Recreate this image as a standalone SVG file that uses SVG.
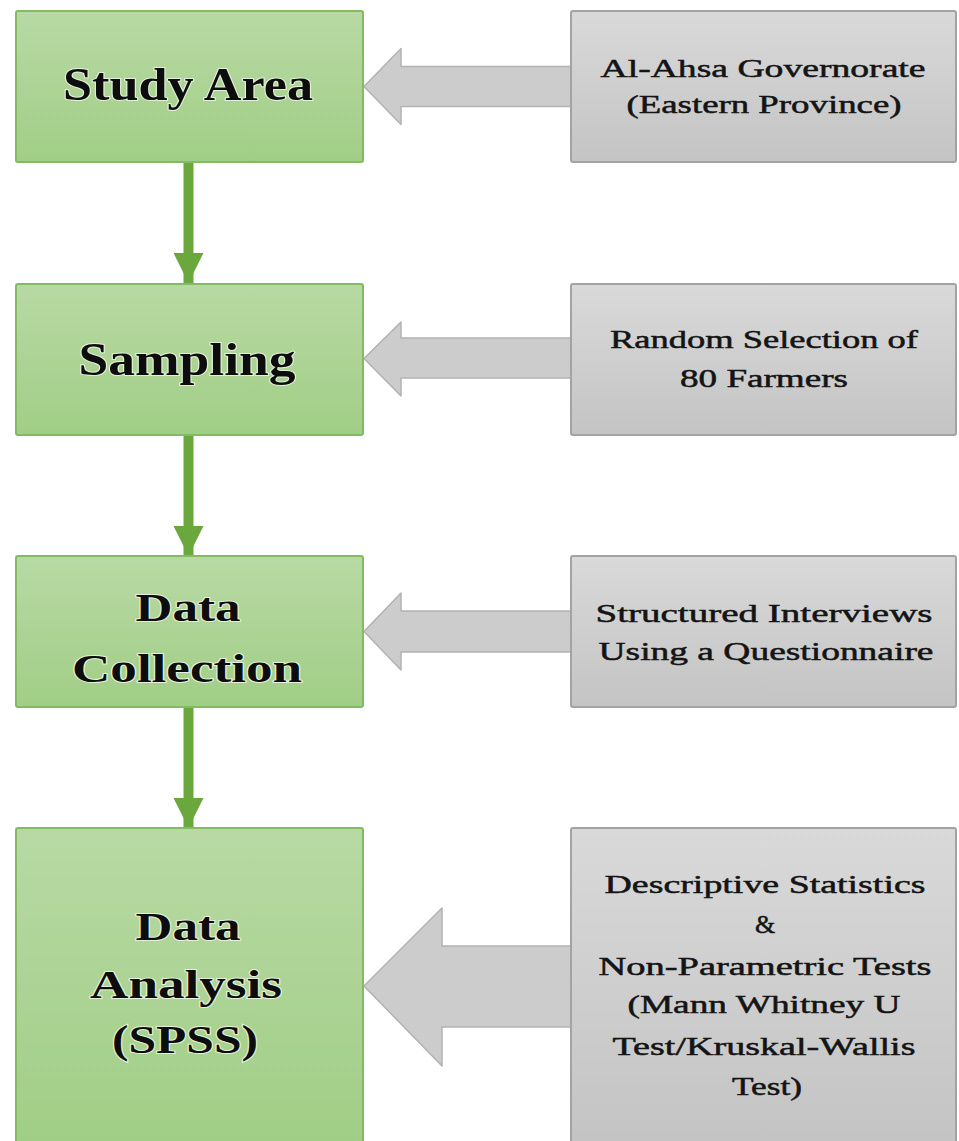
<svg xmlns="http://www.w3.org/2000/svg" width="959" height="1141" viewBox="0 0 959 1141">
<defs>
<linearGradient id="gGreen" x1="0" y1="0" x2="0" y2="1">
<stop offset="0" stop-color="#b8d9a4"/>
<stop offset="1" stop-color="#a1ce86"/>
</linearGradient>
<linearGradient id="gGreenTall" x1="0" y1="828" x2="0" y2="1141" gradientUnits="userSpaceOnUse">
<stop offset="0" stop-color="#b8d9a4"/>
<stop offset="1" stop-color="#a1ce86"/>
</linearGradient>
<linearGradient id="gGray" x1="0" y1="0" x2="0" y2="1">
<stop offset="0" stop-color="#d9d9d9"/>
<stop offset="1" stop-color="#c4c4c4"/>
</linearGradient>
<linearGradient id="gGrayTall" x1="0" y1="828" x2="0" y2="1141" gradientUnits="userSpaceOnUse">
<stop offset="0" stop-color="#d9d9d9"/>
<stop offset="1" stop-color="#c4c4c4"/>
</linearGradient>
<marker id="gHead" markerWidth="30" markerHeight="30" refX="30" refY="15" orient="auto" markerUnits="userSpaceOnUse" viewBox="0 0 30 30">
<path d="M0,0 L30,15 L0,30 Z" fill="#6aa83e"/>
</marker>
</defs>
<style>
.green{stroke:#82bb62;stroke-width:2}
.gray{stroke:#a3a3a3;stroke-width:2}
.blk{fill:#cccccc;stroke:#b2b2b2;stroke-width:1.5;stroke-linejoin:round}
.flow{stroke:#6aa83e;stroke-width:10;fill:none}
.t1{font-family:"Liberation Serif","Times New Roman",serif;font-weight:bold;font-size:46px;fill:#0d0d0d;text-anchor:middle;paint-order:stroke;stroke:#e4f1da;stroke-width:2}
.t2{font-family:"Liberation Serif","Times New Roman",serif;font-weight:bold;font-size:40px;fill:#0d0d0d;text-anchor:middle;paint-order:stroke;stroke:#e4f1da;stroke-width:2}
.tg{font-family:"Liberation Serif","Times New Roman",serif;font-size:26px;fill:#141414;text-anchor:middle;stroke:#141414;stroke-width:0.5}
</style>
<rect width="959" height="1141" fill="#ffffff"/>

<g id="connectors">
<line class="flow" x1="188.5" y1="162" x2="188.5" y2="283" marker-end="url(#gHead)"/>
<line class="flow" x1="188.5" y1="435" x2="188.5" y2="556" marker-end="url(#gHead)"/>
<line class="flow" x1="188.5" y1="708" x2="188.5" y2="828" marker-end="url(#gHead)"/>
<path class="blk" d="M364,86.5 L401,48.5 L401,66.5 L571,66.5 L571,106.5 L401,106.5 L401,124.5 Z"/>
<path class="blk" d="M364,358.5 L401,322 L401,338 L571,338 L571,378 L401,378 L401,396 Z"/>
<path class="blk" d="M364,631.5 L401,593 L401,611 L571,611 L571,652 L401,652 L401,670 Z"/>
<path class="blk" d="M364,986 L442,908 L442,946 L571,946 L571,1027 L442,1027 L442,1066 Z"/>
</g>

<g id="study-area">
<rect class="green" x="16" y="11" width="347" height="151" rx="2" fill="url(#gGreen)"/>
<text class="t1" x="188" y="100" textLength="250" lengthAdjust="spacingAndGlyphs">Study Area</text>
</g>
<g id="sampling">
<rect class="green" x="16" y="284" width="347" height="151" rx="2" fill="url(#gGreen)"/>
<text class="t1" x="187" y="375" textLength="217" lengthAdjust="spacingAndGlyphs">Sampling</text>
</g>
<g id="data-collection">
<rect class="green" x="16" y="556" width="347" height="151" rx="2" fill="url(#gGreen)"/>
<text class="t2" x="188" y="621" textLength="105" lengthAdjust="spacingAndGlyphs">Data</text>
<text class="t2" x="187" y="682" textLength="230" lengthAdjust="spacingAndGlyphs">Collection</text>
</g>
<g id="data-analysis">
<rect class="green" x="16" y="828" width="347" height="330" rx="2" fill="url(#gGreenTall)"/>
<text class="t2" x="188" y="940" textLength="105" lengthAdjust="spacingAndGlyphs">Data</text>
<text class="t2" x="186" y="998" textLength="192" lengthAdjust="spacingAndGlyphs">Analysis</text>
<text class="t2" x="185" y="1053" textLength="146" lengthAdjust="spacingAndGlyphs">(SPSS)</text>
</g>

<g id="study-area-detail">
<rect class="gray" x="571" y="11" width="385" height="151" rx="2" fill="url(#gGray)"/>
<text class="tg" x="763" y="77" textLength="325" lengthAdjust="spacingAndGlyphs">Al-Ahsa Governorate</text>
<text class="tg" x="764" y="113" textLength="275" lengthAdjust="spacingAndGlyphs">(Eastern Province)</text>
</g>
<g id="sampling-detail">
<rect class="gray" x="571" y="284" width="385" height="151" rx="2" fill="url(#gGray)"/>
<text class="tg" x="764" y="348" textLength="308" lengthAdjust="spacingAndGlyphs">Random Selection of</text>
<text class="tg" x="764" y="387" textLength="168" lengthAdjust="spacingAndGlyphs">80 Farmers</text>
</g>
<g id="data-collection-detail">
<rect class="gray" x="571" y="556" width="385" height="151" rx="2" fill="url(#gGray)"/>
<text class="tg" x="764" y="622" textLength="337" lengthAdjust="spacingAndGlyphs">Structured Interviews</text>
<text class="tg" x="766" y="660" textLength="335" lengthAdjust="spacingAndGlyphs">Using a Questionnaire</text>
</g>
<g id="data-analysis-detail">
<rect class="gray" x="571" y="828" width="385" height="330" rx="2" fill="url(#gGrayTall)"/>
<text class="tg" x="765" y="893" textLength="321" lengthAdjust="spacingAndGlyphs">Descriptive Statistics</text>
<text class="tg" x="765" y="933">&amp;</text>
<text class="tg" x="765" y="975" textLength="333" lengthAdjust="spacingAndGlyphs">Non-Parametric Tests</text>
<text class="tg" x="764" y="1013" textLength="273" lengthAdjust="spacingAndGlyphs">(Mann Whitney U</text>
<text class="tg" x="764" y="1055" textLength="303" lengthAdjust="spacingAndGlyphs">Test/Kruskal-Wallis</text>
<text class="tg" x="767" y="1095" textLength="70" lengthAdjust="spacingAndGlyphs">Test)</text>
</g>
</svg>
